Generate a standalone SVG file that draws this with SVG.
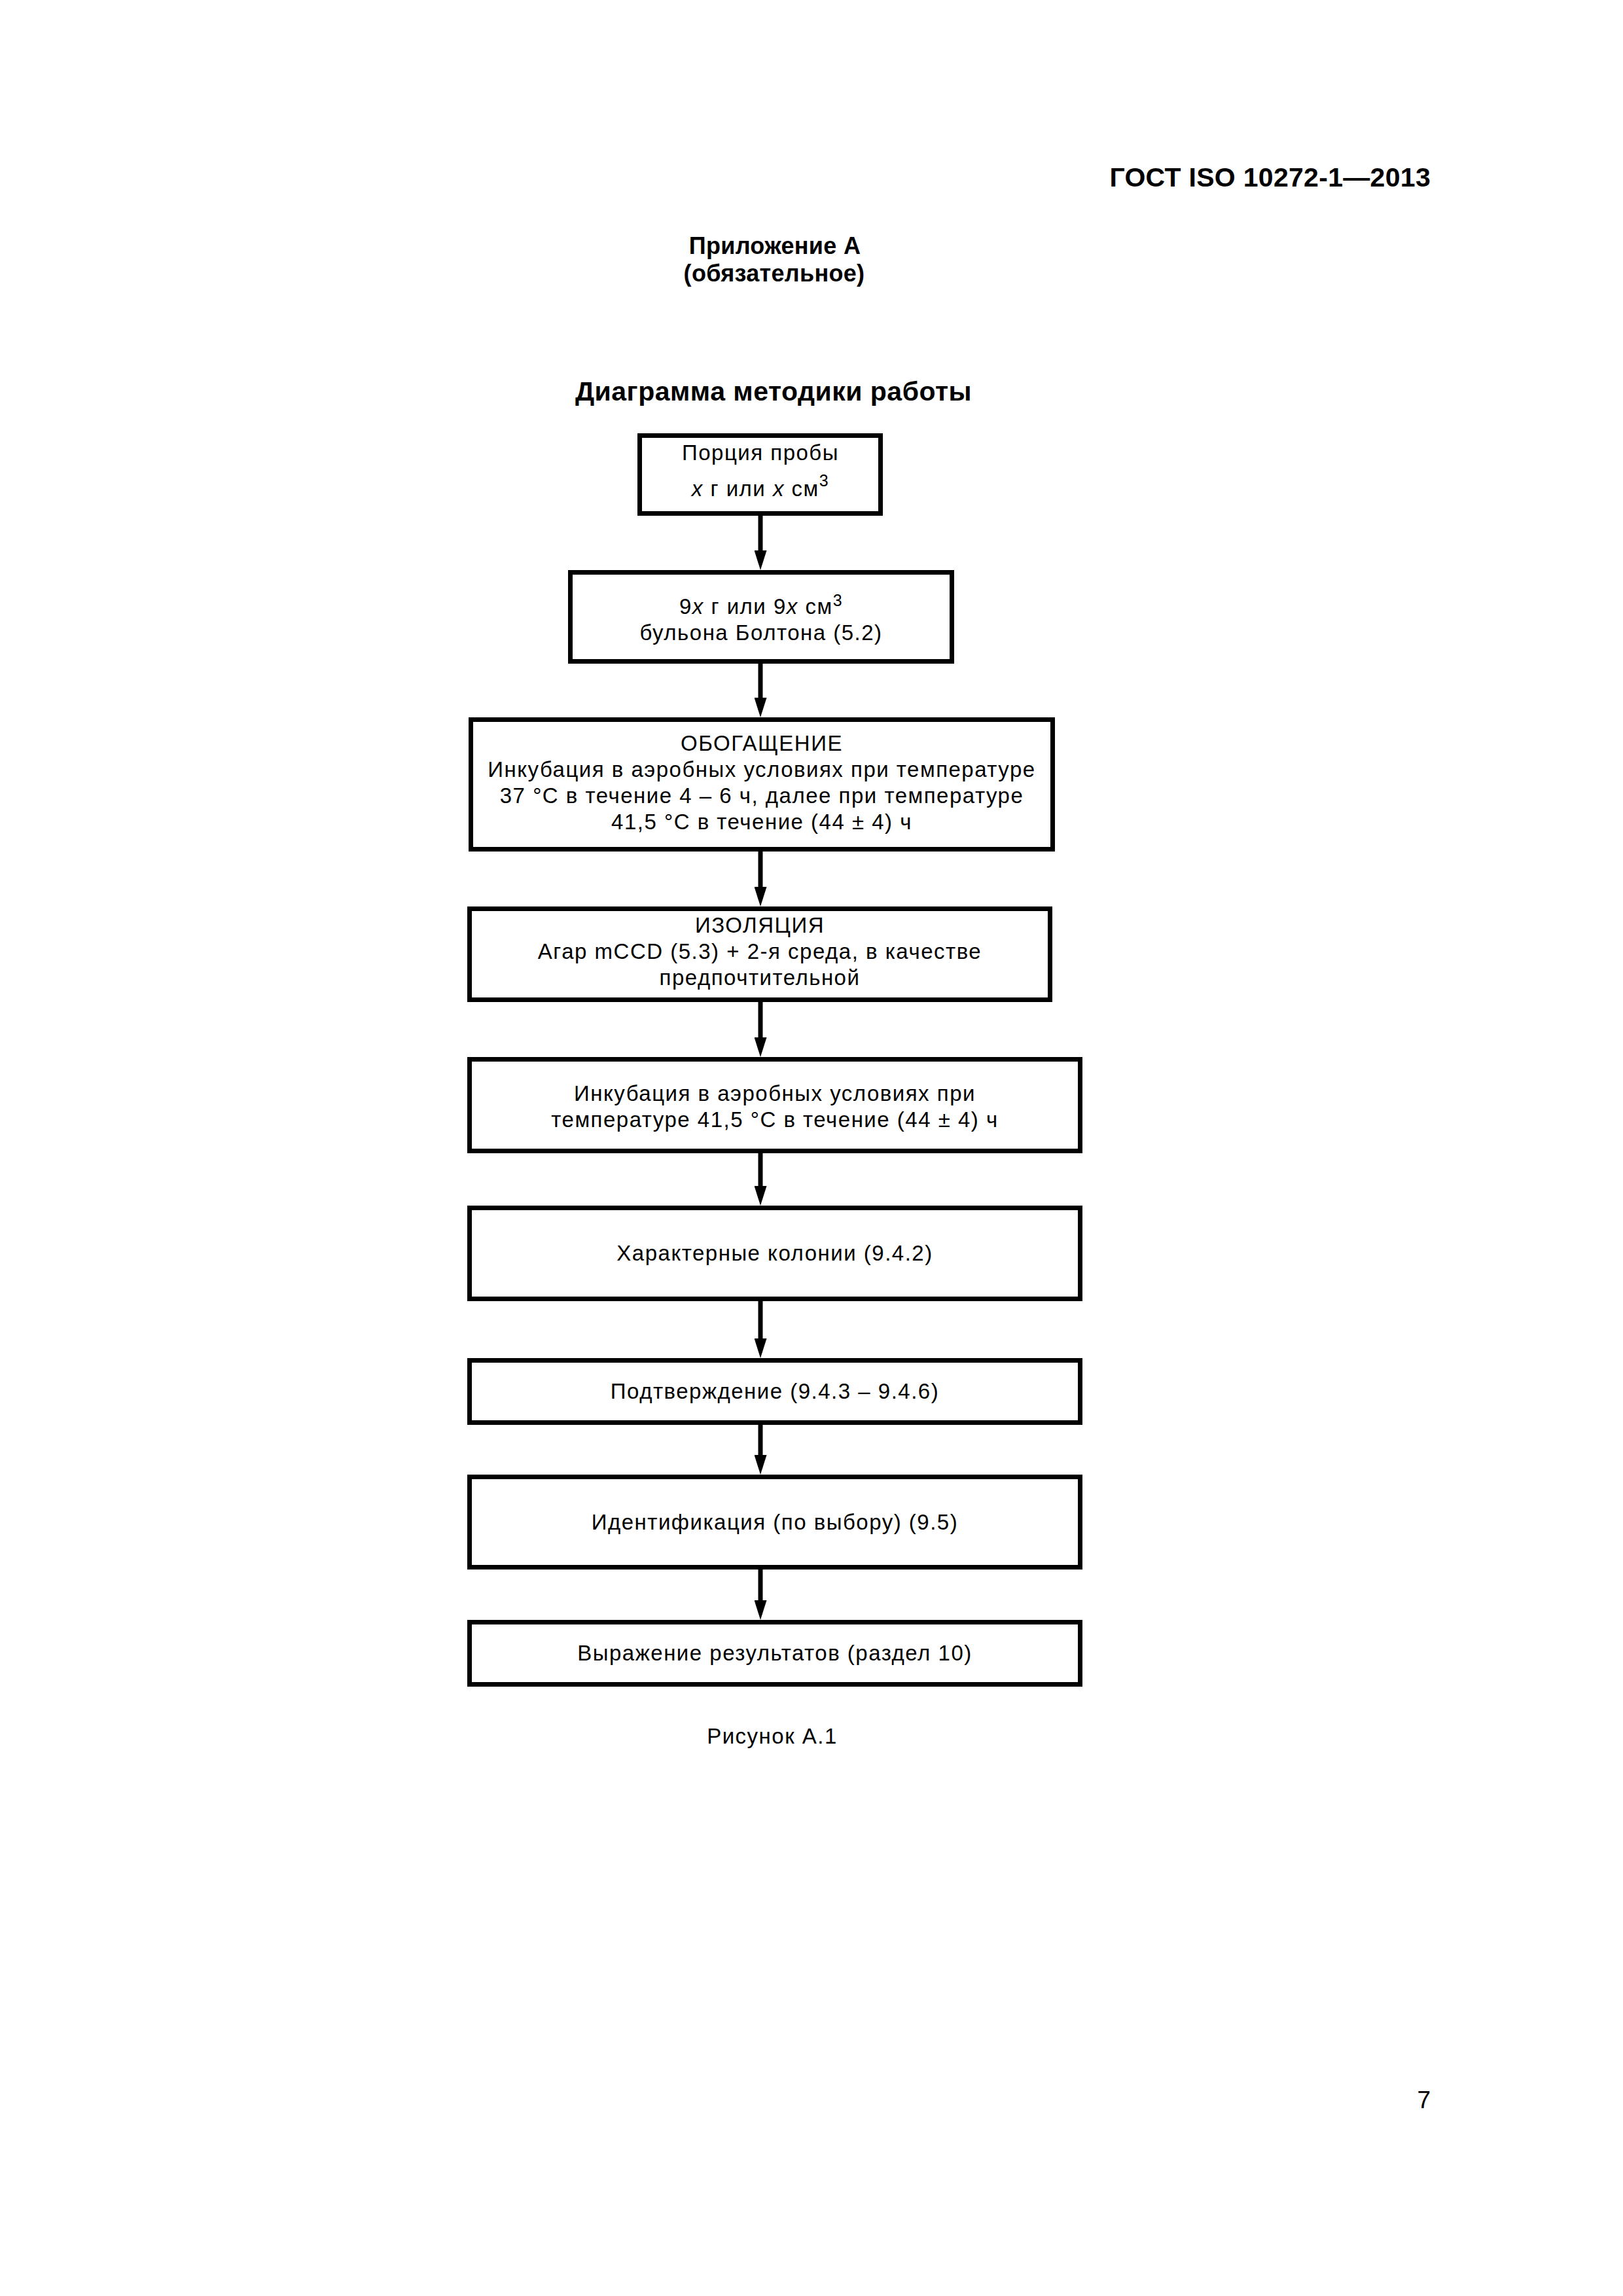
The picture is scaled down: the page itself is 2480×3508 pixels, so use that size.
<svg xmlns="http://www.w3.org/2000/svg" width="2480" height="3508" viewBox="0 0 2480 3508">
<style>
text{font-family:"Liberation Sans",Arial,sans-serif;fill:#000}
.t{font-size:33px;letter-spacing:1.5px;text-anchor:middle}
.h{font-weight:bold;text-anchor:middle}
.box{fill:#fff;stroke:#000;stroke-width:7}
.con{stroke:#000;stroke-width:7;fill:none;marker-end:url(#ah)}
.i{font-style:italic}
</style>
<defs>
<marker id="ah" markerUnits="userSpaceOnUse" viewBox="0 0 30 19" refX="0" refY="9.5" markerWidth="30" markerHeight="19" orient="auto">
<path d="M0,0 L30,9.5 L0,19 Z" fill="#000"/>
</marker>
</defs>
<rect width="2480" height="3508" fill="#fff"/>
<g id="header">
<text x="2186" y="285" style="font-weight:bold;font-size:41px;letter-spacing:0.3px;text-anchor:end">ГОСТ ISO 10272-1—2013</text>
<text class="h" x="1184" y="388" style="font-size:36px;letter-spacing:0.3px">Приложение А</text>
<text class="h" x="1183" y="430" style="font-size:36px;letter-spacing:0.3px">(обязательное)</text>
<text class="h" x="1182" y="612" style="font-size:41px;letter-spacing:0.5px">Диаграмма методики работы</text>
</g>
<g id="connectors">
<line class="con" x1="1162" y1="788" x2="1162" y2="841"/>
<line class="con" x1="1162" y1="1014" x2="1162" y2="1066"/>
<line class="con" x1="1162" y1="1301" x2="1162" y2="1355"/>
<line class="con" x1="1162" y1="1531" x2="1162" y2="1585"/>
<line class="con" x1="1162" y1="1762" x2="1162" y2="1812"/>
<line class="con" x1="1162" y1="1988" x2="1162" y2="2045"/>
<line class="con" x1="1162" y1="2177" x2="1162" y2="2223"/>
<line class="con" x1="1162" y1="2398" x2="1162" y2="2445"/>
</g>
<g id="n1">
<rect class="box" x="977.5" y="665.5" width="368" height="119"/>
<text class="t" x="1162" y="703">Порция пробы</text>
<text class="t" x="1162" y="758"><tspan class="i">x</tspan> г или <tspan class="i">x</tspan> см<tspan font-size="25" dy="-15">3</tspan></text>
</g>
<g id="n2">
<rect class="box" x="871.5" y="874.5" width="583" height="136"/>
<text class="t" x="1163" y="938">9<tspan class="i">x</tspan> г или 9<tspan class="i">x</tspan> см<tspan font-size="25" dy="-12">3</tspan></text>
<text class="t" x="1163" y="978">бульона Болтона (5.2)</text>
</g>
<g id="n3">
<rect class="box" x="719.5" y="1099.5" width="889" height="198"/>
<text class="t" x="1164" y="1147">ОБОГАЩЕНИЕ</text>
<text class="t" x="1164" y="1187">Инкубация в аэробных условиях при температуре</text>
<text class="t" x="1164" y="1227">37 °C в течение 4 – 6 ч, далее при температуре</text>
<text class="t" x="1164" y="1267">41,5 °C в течение (44 ± 4) ч</text>
</g>
<g id="n4">
<rect class="box" x="717.5" y="1388.5" width="887" height="139"/>
<text class="t" x="1161" y="1425">ИЗОЛЯЦИЯ</text>
<text class="t" x="1161" y="1465">Агар mCCD (5.3) + 2-я среда, в качестве</text>
<text class="t" x="1161" y="1505">предпочтительной</text>
</g>
<g id="n5">
<rect class="box" x="717.5" y="1618.5" width="933" height="140"/>
<text class="t" x="1184" y="1682">Инкубация в аэробных условиях при</text>
<text class="t" x="1184" y="1722">температуре 41,5 °C в течение (44 ± 4) ч</text>
</g>
<g id="n6">
<rect class="box" x="717.5" y="1845.5" width="933" height="139"/>
<text class="t" x="1184" y="1926">Характерные колонии (9.4.2)</text>
</g>
<g id="n7">
<rect class="box" x="717.5" y="2078.5" width="933" height="95"/>
<text class="t" x="1184" y="2137">Подтверждение (9.4.3 – 9.4.6)</text>
</g>
<g id="n8">
<rect class="box" x="717.5" y="2256.5" width="933" height="138"/>
<text class="t" x="1184" y="2337">Идентификация (по выбору) (9.5)</text>
</g>
<g id="n9">
<rect class="box" x="717.5" y="2478.5" width="933" height="95"/>
<text class="t" x="1184" y="2537">Выражение результатов (раздел 10)</text>
</g>
<g id="footer">
<text class="t" x="1180" y="2664">Рисунок А.1</text>
<text x="2186" y="3221" style="font-size:37px;text-anchor:end">7</text>
</g>
</svg>
